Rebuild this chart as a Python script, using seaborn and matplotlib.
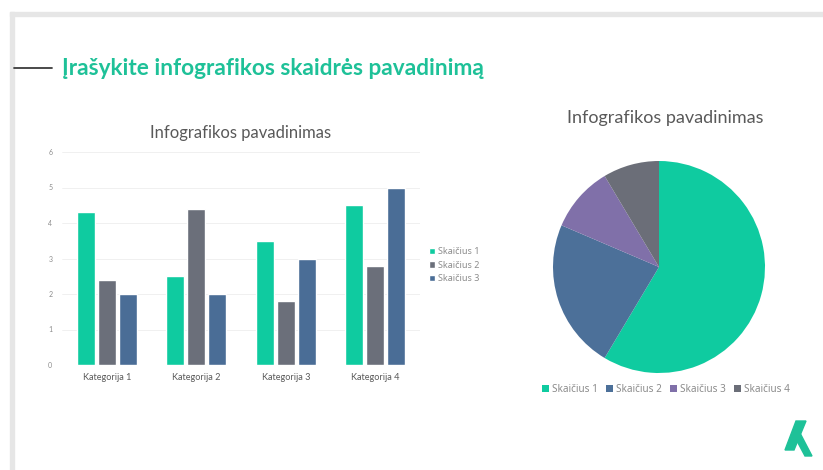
import numpy as np
import pandas as pd
import matplotlib
matplotlib.use("Agg")
import matplotlib.pyplot as plt
import seaborn as sns
from matplotlib.patches import Rectangle, Polygon
from matplotlib.lines import Line2D

# ---- data ----
categories = ["Kategorija 1", "Kategorija 2", "Kategorija 3", "Kategorija 4"]
series_names = ["Skaičius 1", "Skaičius 2", "Skaičius 3"]
series1 = [4.3, 2.5, 3.5, 4.5]
series2 = [2.4, 4.4, 1.8, 2.8]
series3 = [2.0, 2.0, 3.0, 5.0]
y_ticks = [0, 1, 2, 3, 4, 5, 6]
pie_labels = ["Skaičius 1", "Skaičius 2", "Skaičius 3", "Skaičius 4"]
pie_values = [8.2, 3.2, 1.4, 1.2]

slide_title = "Įrašykite infografikos skaidrės pavadinimą"
chart_title = "Infografikos pavadinimas"

bar_colors = ["#0FCBA0", "#6B6F7A", "#4A6D96"]
pie_colors = ["#0FCBA0", "#4C7099", "#8070A9", "#6B6E78"]

sns.set_theme(style="white")
plt.rcParams['font.family'] = ['Lato', 'DejaVu Sans']

W, H = 823, 470
fig = plt.figure(figsize=(W / 100, H / 100), dpi=100)
fig.patch.set_facecolor("white")

def fx(px):
    return px / W

def fy(py):
    return 1 - py / H

# slide frame
fig.patches.append(Rectangle((fx(10), 0), 4 / W, (H - 12) / H,
                             transform=fig.transFigure, color="#E6E6E6", zorder=0))
fig.patches.append(Rectangle((fx(10), fy(16)), (W - 10) / W, 4 / H,
                             transform=fig.transFigure, color="#E6E6E6", zorder=0))
# title dash + title
fig.add_artist(Line2D([fx(14), fx(52)], [fy(68), fy(68)], color="#3C3C3C", lw=1.3,
                      transform=fig.transFigure))
fig.text(fx(62), fy(75), slide_title, fontsize=16.3, fontweight="bold", color="#1EC198",
         va="baseline", ha="left")

# ---- bar chart ----
df = pd.DataFrame({
    "cat": categories * 3,
    "series": sum([[s] * 4 for s in series_names], []),
    "val": series1 + series2 + series3,
})
ax = fig.add_axes([fx(62), fy(365), 358 / W, 213 / H])
sns.barplot(data=df, x="cat", y="val", hue="series", palette=bar_colors,
            width=0.7, gap=0.15, saturation=1, ax=ax, legend=True)
ax.set_xlim(-0.5, 3.5)
ax.set_ylim(0, 6)
ax.set_yticks(y_ticks)
ax.set_yticklabels([str(t) for t in y_ticks], fontsize=5, color="#8C8C8C")
ax.tick_params(axis="x", labelsize=6.6, colors="#595959", length=0, pad=6)
ax.tick_params(axis="y", length=0, pad=7)
for lab in ax.get_xticklabels():
    lab.set_color("#595959")
for lab in ax.get_yticklabels():
    lab.set_color("#8C8C8C")
ax.set_xlabel("")
ax.set_ylabel("")
for s in ax.spines.values():
    s.set_visible(False)
ax.yaxis.grid(True, color="#EEEEEE", lw=0.6)
ax.set_axisbelow(True)
ax.set_facecolor("none")
handles, labels = ax.get_legend_handles_labels()
ax.legend(handles, labels, loc="center left", bbox_to_anchor=(fx(421), fy(265)),
          bbox_transform=fig.transFigure, frameon=False,
          prop={"family": "Noto Sans", "size": 6.5},
          handlelength=0.7, handleheight=0.7, handletextpad=0.3, labelspacing=0.5,
          labelcolor="#8C8C8C")
fig.text(fx(241), fy(133), chart_title, fontsize=12, color="#595959",
         ha="center", va="center")

# ---- pie chart ----
ax2 = fig.add_axes([fx(553), fy(373), 212 / W, 212 / H])
wedges, _ = ax2.pie(pie_values, colors=pie_colors, startangle=90, counterclock=False,
                    radius=1, wedgeprops=dict(linewidth=0))
ax2.set_xlim(-1, 1)
ax2.set_ylim(-1, 1)
ax2.axis("off")
fig.text(fx(665), fy(118), chart_title, fontsize=13, color="#595959",
         ha="center", va="center")
fig.legend(wedges, pie_labels, loc="center", bbox_to_anchor=(fx(666), fy(389)),
           ncol=4, frameon=False, prop={"family": "Noto Sans", "size": 7.2},
           handlelength=0.7, handleheight=0.7,
           handletextpad=0.3, columnspacing=0.8, labelcolor="#8C8C8C")

# logo
fig.patches.append(Polygon([(fx(796), fy(421)), (fx(806), fy(421)), (fx(794), fy(450)),
                            (fx(785), fy(450))], closed=True, transform=fig.transFigure,
                           color="#1EC198"))
fig.patches.append(Polygon([(fx(800), fy(433)), (fx(812), fy(456)), (fx(805), fy(456)),
                            (fx(797), fy(441))], closed=True, transform=fig.transFigure,
                           color="#1EC198"))

fig.savefig("out.png", dpi=100, facecolor="white")
